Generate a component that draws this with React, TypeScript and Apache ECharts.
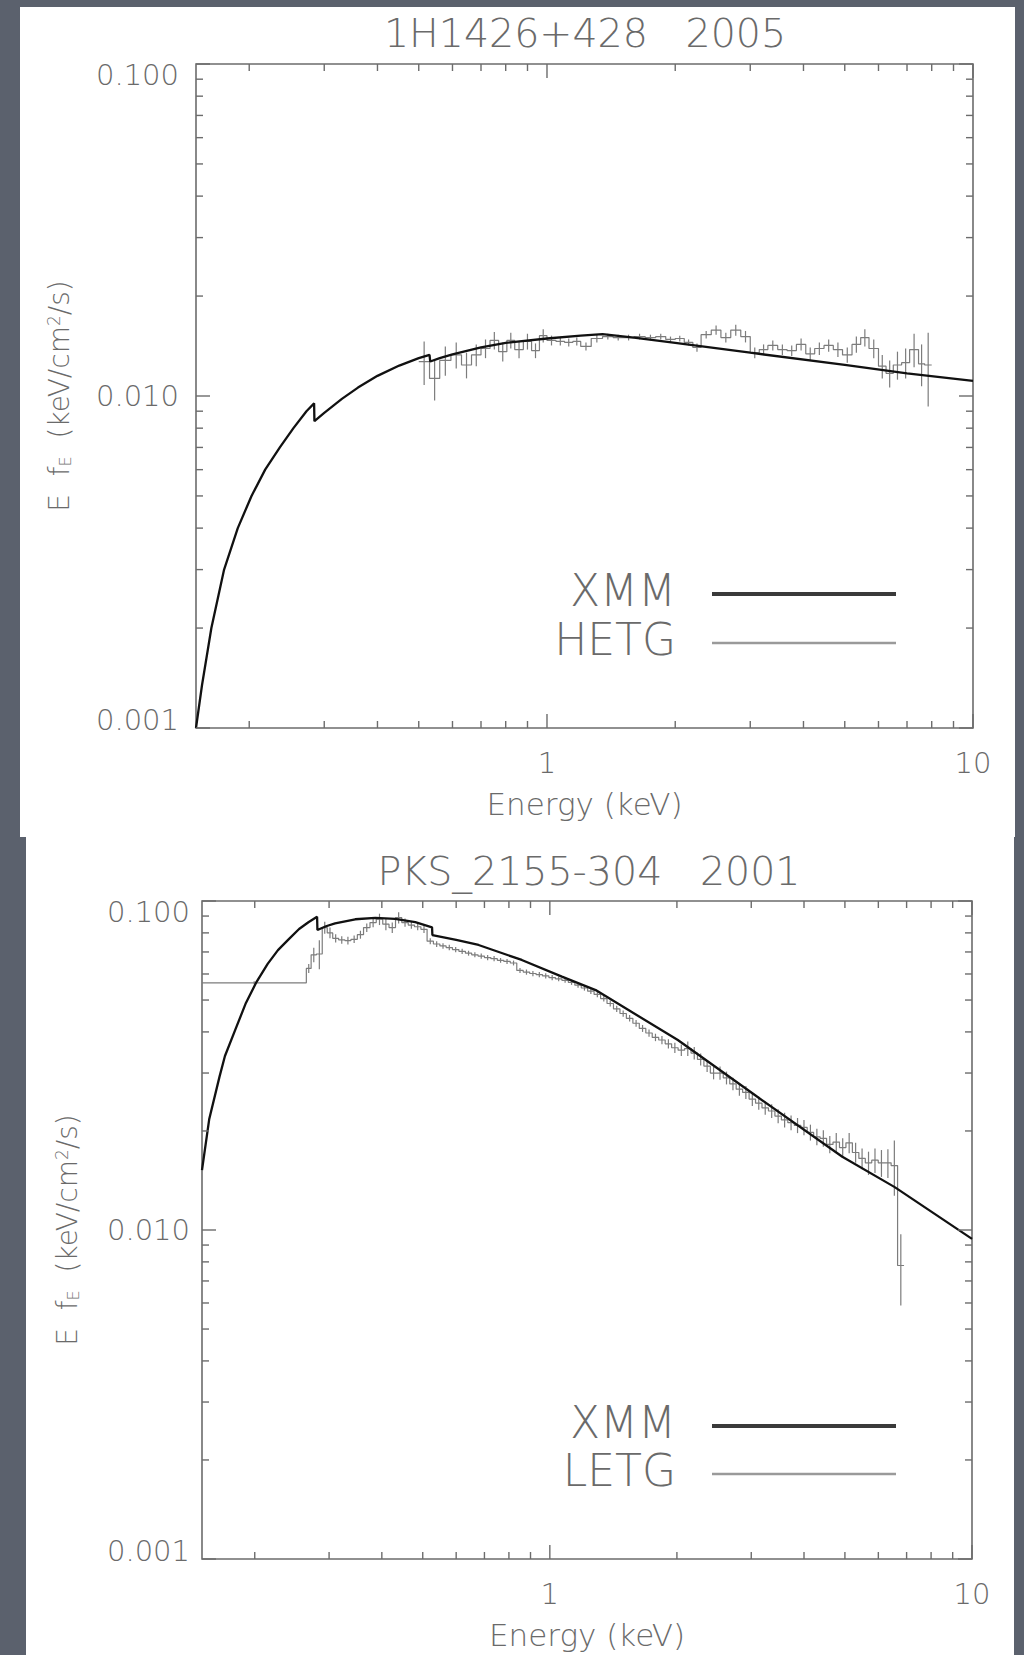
import React, { useEffect, useRef } from 'react';
import * as echarts from 'echarts';

const FONT = '"DejaVu Sans", "Liberation Sans", sans-serif';
const TEXT_COLOR = '#6a6a6a';
const AXIS_COLOR = '#6c6c6c';
const MODEL_COLOR = '#111111';
const DATA_COLOR = '#7c7c7c';

// ---- axes ----
const xRange = [0.15, 10];
const yRange = [0.001, 0.1];
const xTickValues = [1, 10];
const xTickLabels = ['1', '10'];
const yTickValues = [0.001, 0.01, 0.1];
const yTickLabels = ['0.001', '0.010', '0.100'];
const xMinorTicks = [0.2, 0.3, 0.4, 0.5, 0.6, 0.7, 0.8, 0.9, 2, 3, 4, 5, 6, 7, 8, 9];
const yMinorTicks = [0.002, 0.003, 0.004, 0.005, 0.006, 0.007, 0.008, 0.009,
  0.02, 0.03, 0.04, 0.05, 0.06, 0.07, 0.08, 0.09];

const titles = ['1H1426+428   2005', 'PKS_2155-304   2001'];
const modelName = 'XMM';
const gratingNames = ['HETG', 'LETG'];

// ---- panel 1: 1H1426+428 ----
const xmm1Energy = [0.15, 0.155, 0.163, 0.1746, 0.188, 0.2025, 0.218, 0.236, 0.254, 0.2725,
  0.284, 0.2845, 0.3, 0.33, 0.36, 0.4, 0.45, 0.5,
  0.53, 0.532, 0.56, 0.6, 0.7, 0.8, 1.0, 1.2, 1.35, 1.6,
  2.0, 3.0, 5.0, 7.0, 10.0];
const xmm1Flux = [0.001, 0.00135, 0.002, 0.003, 0.004, 0.005, 0.006, 0.007, 0.008, 0.009,
  0.0095, 0.0084, 0.0089, 0.0098, 0.0106, 0.0115, 0.01235, 0.013,
  0.0133, 0.0127, 0.013, 0.01335, 0.014, 0.01445, 0.0149, 0.0152, 0.01535, 0.015,
  0.01445, 0.0135, 0.0124, 0.0117, 0.0111];

const hetgEdges = [0.5, 0.53, 0.56, 0.595, 0.63, 0.665, 0.7, 0.735, 0.77, 0.805,
  0.84, 0.88, 0.92, 0.96, 1.0, 1.05, 1.1, 1.15, 1.2, 1.27,
  1.35, 1.43, 1.51, 1.6, 1.7, 1.8, 1.9, 2.0, 2.1, 2.2,
  2.3, 2.43, 2.56, 2.7, 2.85, 3.0, 3.15, 3.3, 3.48, 3.66,
  3.85, 4.05, 4.25, 4.47, 4.7, 4.94, 5.2, 5.45, 5.7, 6.0,
  6.25, 6.5, 6.8, 7.1, 7.45, 7.7, 8.0];
const hetgFlux = [0.0127, 0.0113, 0.0128, 0.0133, 0.0124, 0.0133, 0.0139, 0.0147, 0.0136, 0.0147,
  0.0138, 0.0146, 0.0137, 0.0152, 0.0147, 0.0146, 0.0145, 0.0146, 0.0141, 0.0149,
  0.0151, 0.015, 0.015, 0.0151, 0.015, 0.0151, 0.0148, 0.0149, 0.0145, 0.014,
  0.0153, 0.0158, 0.015, 0.0158, 0.0151, 0.0135, 0.0138, 0.0142, 0.0138, 0.0137,
  0.0143, 0.0134, 0.0139, 0.0142, 0.0138, 0.0133, 0.0143, 0.015, 0.0139, 0.0123,
  0.0117, 0.0124, 0.0126, 0.0138, 0.0125, 0.0124];
const hetgErr = [0.0019, 0.0016, 0.0013, 0.0012, 0.0011, 0.001, 0.0009, 0.0009, 0.0009, 0.0008,
  0.0008, 0.0008, 0.0007, 0.0007, 0.0005, 0.0004, 0.0004, 0.0004, 0.0004, 0.0004,
  0.0003, 0.0003, 0.0003, 0.0003, 0.0003, 0.0003, 0.0003, 0.0003, 0.0003, 0.0004,
  0.0004, 0.0005, 0.0005, 0.0006, 0.0006, 0.0005, 0.0005, 0.0005, 0.0005, 0.0005,
  0.0006, 0.0006, 0.0006, 0.0006, 0.0007, 0.0007, 0.0008, 0.0009, 0.0009, 0.001,
  0.0011, 0.0012, 0.0013, 0.0016, 0.0018, 0.0031];

// ---- panel 2: PKS 2155-304 ----
const xmm2Energy = [0.15, 0.156, 0.165, 0.17, 0.18, 0.1906, 0.202, 0.2146, 0.227, 0.2402,
  0.2547, 0.268, 0.281, 0.2815, 0.295, 0.31, 0.346, 0.386, 0.43,
  0.48, 0.526, 0.527, 0.6, 0.678, 0.858, 1.068, 1.284, 2.01, 3.1,
  4.93, 6.56, 10.0];
const xmm2Flux = [0.0152, 0.0217, 0.0292, 0.0338, 0.0407, 0.049, 0.0568, 0.0644, 0.0709, 0.0763,
  0.0822, 0.0862, 0.0896, 0.0816, 0.0838, 0.0855, 0.088, 0.0888, 0.0882,
  0.0862, 0.0832, 0.0788, 0.0762, 0.0735, 0.0662, 0.0589, 0.0536, 0.0378, 0.0254,
  0.0167, 0.0135, 0.0094];

const letgEdges = [0.15, 0.265, 0.272, 0.28, 0.289, 0.297, 0.306, 0.316, 0.327, 0.338,
  0.35, 0.362, 0.375, 0.388, 0.402, 0.416, 0.431, 0.446, 0.462, 0.478,
  0.495, 0.512, 0.53, 0.549, 0.568, 0.588, 0.609, 0.631, 0.653, 0.676,
  0.7, 0.725, 0.751, 0.778, 0.806, 0.835, 0.865, 0.896, 0.928, 0.961,
  0.995, 1.031, 1.068, 1.106, 1.146, 1.187, 1.229, 1.273, 1.319, 1.366,
  1.415, 1.466, 1.518, 1.573, 1.629, 1.688, 1.748, 1.811, 1.876, 1.943,
  2.013, 2.085, 2.16, 2.237, 2.317, 2.4, 2.486, 2.575, 2.668, 2.763,
  2.862, 2.965, 3.071, 3.181, 3.295, 3.413, 3.536, 3.662, 3.794, 3.93,
  4.07, 4.216, 4.367, 4.524, 4.686, 4.854, 5.028, 5.208, 5.395, 5.588,
  5.788, 5.996, 6.211, 6.433, 6.664, 6.903];
const letgFlux = [0.0564, 0.0624, 0.0686, 0.069, 0.083, 0.08, 0.077, 0.0762, 0.0758, 0.0765,
  0.079, 0.083, 0.086, 0.088, 0.085, 0.083, 0.089, 0.086, 0.0845, 0.0835,
  0.082, 0.0755, 0.074, 0.073, 0.0722, 0.0712, 0.0703, 0.0694, 0.0686, 0.068,
  0.0673, 0.0668, 0.066, 0.0655, 0.0648, 0.0615, 0.0608, 0.0602, 0.0597, 0.0592,
  0.0585, 0.058, 0.0574, 0.0566, 0.0555, 0.0544, 0.0532, 0.052, 0.0505, 0.0488,
  0.047, 0.0455, 0.044, 0.0425, 0.041, 0.0397, 0.0385, 0.0378, 0.0368, 0.0358,
  0.0352, 0.0356, 0.0345, 0.033, 0.0315, 0.03, 0.03, 0.029, 0.0278, 0.0268,
  0.0262, 0.025, 0.0243, 0.0235, 0.023, 0.0222, 0.0216, 0.0212, 0.0208, 0.0205,
  0.0198, 0.0192, 0.019, 0.0182, 0.0185, 0.0178, 0.0184, 0.0172, 0.0165, 0.016,
  0.0163, 0.016, 0.016, 0.0157, 0.0078];
const letgErr = [0.0006, 0.002, 0.0035, 0.007, 0.0035, 0.003, 0.0022, 0.002, 0.002, 0.002,
  0.0022, 0.0025, 0.0028, 0.0035, 0.0035, 0.003, 0.0035, 0.0025, 0.0022, 0.002,
  0.002, 0.0016, 0.0015, 0.0014, 0.0014, 0.0013, 0.0013, 0.0012, 0.0012, 0.0012,
  0.0012, 0.0012, 0.0011, 0.0011, 0.0011, 0.0011, 0.0011, 0.0011, 0.0011, 0.0011,
  0.0011, 0.001, 0.001, 0.001, 0.001, 0.001, 0.001, 0.001, 0.001, 0.001,
  0.001, 0.001, 0.001, 0.001, 0.001, 0.001, 0.001, 0.0011, 0.0012, 0.0013,
  0.0014, 0.0018, 0.0015, 0.0014, 0.0013, 0.0013, 0.0014, 0.0013, 0.0012, 0.0012,
  0.0012, 0.0012, 0.0011, 0.0011, 0.0011, 0.0011, 0.0011, 0.0011, 0.0011, 0.0011,
  0.0011, 0.0011, 0.0011, 0.0011, 0.0012, 0.0012, 0.0013, 0.0012, 0.0012, 0.0013,
  0.0014, 0.0015, 0.0016, 0.003, 0.0019];

// ---- helpers building library data ----
const zip = (a: number[], b: number[]) => a.map((v, i) => [v, b[i]]);
const stepData = (edges: number[], flux: number[]) => {
  const d = flux.map((f, i) => [edges[i], f]);
  d.push([edges[edges.length - 1], flux[flux.length - 1]]);
  return d;
};
const errData = (edges: number[], flux: number[], err: number[]) =>
  flux.map((f, i) => [Math.sqrt(edges[i] * edges[i + 1]), f - err[i], f + err[i]]);
const tickData = () => [
  ...xTickValues.map((v) => [v, 0.01, 0, 14]),
  ...xMinorTicks.map((v) => [v, 0.01, 0, 7]),
  ...yTickValues.map((v) => [1, v, 1, 14]),
  ...yMinorTicks.map((v) => [1, v, 1, 7]),
];
const same = (a: number, b: number) => Math.abs(Math.log10(a) - Math.log10(b)) < 1e-6;

const tickRender = (params: any, api: any) => {
  const kind = api.value(2);
  const len = api.value(3);
  const style = { stroke: AXIS_COLOR, lineWidth: 1.4 };
  if (kind === 0) {
    const v = api.value(0);
    const b = api.coord([v, yRange[0]]);
    const t = api.coord([v, yRange[1]]);
    return {
      type: 'group',
      children: [
        { type: 'line', shape: { x1: b[0], y1: b[1], x2: b[0], y2: b[1] - len }, style },
        { type: 'line', shape: { x1: t[0], y1: t[1], x2: t[0], y2: t[1] + len }, style },
      ],
    };
  }
  const v = api.value(1);
  const l = api.coord([xRange[0], v]);
  const r = api.coord([xRange[1], v]);
  return {
    type: 'group',
    children: [
      { type: 'line', shape: { x1: l[0], y1: l[1], x2: l[0] + len, y2: l[1] }, style },
      { type: 'line', shape: { x1: r[0], y1: r[1], x2: r[0] - len, y2: r[1] }, style },
    ],
  };
};

const errRender = (params: any, api: any) => {
  const x = api.value(0);
  const a = api.coord([x, api.value(1)]);
  const b = api.coord([x, api.value(2)]);
  return {
    type: 'line',
    shape: { x1: a[0], y1: a[1], x2: b[0], y2: b[1] },
    style: { stroke: DATA_COLOR, lineWidth: 1.2 },
  };
};

const grids = [
  { left: 196, top: 64, width: 777, height: 664, labelMargin: 17, nameGap: 123 },
  { left: 202, top: 901, width: 770, height: 658, labelMargin: 12, nameGap: 121 },
];

const textBase = { fontFamily: FONT, color: TEXT_COLOR, fontWeight: 200 as any };

function buildOption() {
  const xAxis = grids.map((g, i) => ({
    type: 'log',
    logBase: 10,
    gridIndex: i,
    min: xRange[0],
    max: xRange[1],
    axisLine: { show: false },
    axisTick: { show: false },
    splitLine: { show: false },
    minorTick: { show: false },
    axisLabel: {
      ...textBase,
      fontSize: 29,
      margin: 20,
      showMinLabel: true,
      showMaxLabel: true,
      formatter: (v: number) => {
        const k = xTickValues.findIndex((t) => same(t, v));
        return k < 0 ? '' : xTickLabels[k];
      },
    },
    name: 'Energy (keV)',
    nameLocation: 'middle',
    nameGap: 60,
    nameTextStyle: { ...textBase, fontSize: 31 },
  }));

  const labelRich = {
    hi: { ...textBase, fontSize: 29, padding: [22, 0, 0, 0] },
    mid: { ...textBase, fontSize: 29 },
    lo: { ...textBase, fontSize: 29, padding: [0, 0, 16, 0] },
  };

  const yAxis = grids.map((g, i) => ({
    type: 'log',
    logBase: 10,
    gridIndex: i,
    min: yRange[0],
    max: yRange[1],
    axisLine: { show: false },
    axisTick: { show: false },
    splitLine: { show: false },
    minorTick: { show: false },
    axisLabel: {
      ...textBase,
      fontSize: 29,
      margin: g.labelMargin,
      showMinLabel: true,
      showMaxLabel: true,
      rich: labelRich,
      formatter: (v: number) => {
        const k = yTickValues.findIndex((t) => same(t, v));
        if (k < 0) return '';
        const key = k === yTickValues.length - 1 ? 'hi' : k === 0 ? 'lo' : 'mid';
        return `{${key}|${yTickLabels[k]}}`;
      },
    },
    name: 'E  f{sub|E}  (keV/cm{sup|2}/s)',
    nameLocation: 'middle',
    nameGap: g.nameGap,
    nameTextStyle: {
      ...textBase,
      fontSize: 28,
      rich: {
        sub: { ...textBase, fontSize: 16, verticalAlign: 'bottom' },
        sup: { ...textBase, fontSize: 17, verticalAlign: 'top' },
      },
    },
  }));

  const datasets = [
    { model: zip(xmm1Energy, xmm1Flux), edges: hetgEdges, flux: hetgFlux, err: hetgErr },
    { model: zip(xmm2Energy, xmm2Flux), edges: letgEdges, flux: letgFlux, err: letgErr },
  ];

  const series: any[] = [];
  datasets.forEach((d, i) => {
    series.push({
      type: 'line',
      name: gratingNames[i],
      xAxisIndex: i,
      yAxisIndex: i,
      step: 'end',
      data: stepData(d.edges, d.flux),
      symbol: 'none',
      showSymbol: false,
      lineStyle: { color: DATA_COLOR, width: 1.2 },
      itemStyle: { color: DATA_COLOR },
      z: 2,
      silent: true,
    });
    series.push({
      type: 'custom',
      name: gratingNames[i],
      xAxisIndex: i,
      yAxisIndex: i,
      renderItem: errRender,
      encode: { x: 0, y: [1, 2] },
      data: errData(d.edges, d.flux, d.err),
      z: 2,
      silent: true,
    });
    series.push({
      type: 'line',
      name: modelName,
      xAxisIndex: i,
      yAxisIndex: i,
      data: d.model,
      symbol: 'none',
      showSymbol: false,
      lineStyle: { color: MODEL_COLOR, width: 2.3 },
      itemStyle: { color: MODEL_COLOR },
      z: 4,
      silent: true,
    });
    series.push({
      type: 'custom',
      name: 'ticks',
      xAxisIndex: i,
      yAxisIndex: i,
      renderItem: tickRender,
      encode: { x: 0, y: 1 },
      data: tickData(),
      z: 5,
      silent: true,
    });
  });

  // legend swatch: an invisible zero-height edge at the top keeps the visible
  // line a few pixels below the centre of the text, as in the original
  const mkLegend = (name: string, top: number, thick: number, color: string) => ({
    data: [{ name, icon: `path://M0,0L184,0ZM0,8H184V${8 + thick}H0Z` }],
    orient: 'vertical',
    right: 128,
    top,
    padding: 0,
    align: 'right',
    itemWidth: 184,
    itemHeight: 8 + thick,
    itemStyle: { color, borderWidth: 0 },
    textStyle: { ...textBase, fontSize: 44, padding: [0, 31, 0, 0] },
    selectedMode: false,
  });

  return {
    animation: false,
    backgroundColor: 'transparent',
    title: [
      { text: titles[0], left: 585, top: 13, textAlign: 'center', padding: 0,
        textStyle: { ...textBase, fontSize: 39.5 } },
      { text: titles[1], left: 589, top: 851, textAlign: 'center', padding: 0,
        textStyle: { ...textBase, fontSize: 39.5 } },
    ],
    legend: [
      mkLegend(modelName, 568, 4, '#3a3a3a'),
      mkLegend(gratingNames[0], 617, 2.5, '#9a9a9a'),
      mkLegend(modelName, 1400, 4, '#3a3a3a'),
      mkLegend(gratingNames[1], 1448, 2.5, '#9a9a9a'),
    ],
    grid: grids.map((g) => ({
      left: g.left, top: g.top, width: g.width, height: g.height,
      show: true, borderColor: AXIS_COLOR, borderWidth: 1.6, backgroundColor: 'transparent',
    })),
    xAxis,
    yAxis,
    series,
  };
}

export default function App() {
  const ref = useRef<HTMLDivElement>(null);
  useEffect(() => {
    if (!ref.current) return;
    const chart = echarts.init(ref.current, undefined, { renderer: 'svg' });
    chart.setOption(buildOption() as any);
    return () => chart.dispose();
  }, []);
  return (
    <div style={{ position: 'absolute', left: 0, top: 0, width: 1024, height: 1655, background: '#5b616d', overflow: 'hidden' }}>
      <div style={{ position: 'absolute', left: 20, top: 7, width: 995, height: 830, background: '#ffffff' }} />
      <div style={{ position: 'absolute', left: 26, top: 837, width: 988, height: 818, background: '#ffffff' }} />
      <div ref={ref} style={{ position: 'absolute', left: 0, top: 0, width: 1024, height: 1655 }} />
    </div>
  );
}
